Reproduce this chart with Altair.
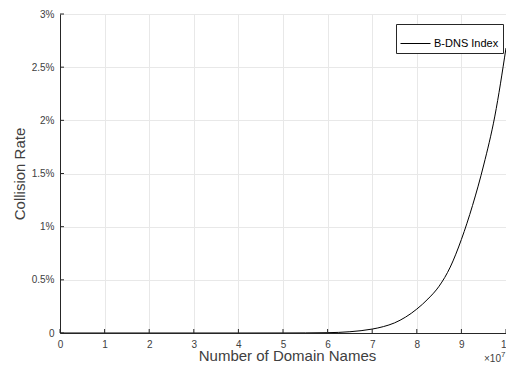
import altair as alt
import pandas as pd

# Data (x in units of 1e7 domain names, collision rate in percent)
x_vals = [0, 1, 2, 3, 4, 5, 5.5, 6, 6.5, 7, 7.25, 7.5, 7.75, 8, 8.25, 8.5, 8.75, 9, 9.25, 9.5, 9.75, 10]
rate_vals = [0, 0, 0, 0, 0, 0.0003, 0.001, 0.003, 0.012, 0.037, 0.06, 0.095, 0.15, 0.225, 0.32, 0.44, 0.62, 0.88, 1.2, 1.58, 2.04, 2.68]
series_name = "B-DNS Index"
x_ticks = [0, 1, 2, 3, 4, 5, 6, 7, 8, 9, 10]
y_ticks = [0, 0.5, 1, 1.5, 2, 2.5, 3]
x_title = "Number of Domain Names"
y_title = "Collision Rate"
exp_base = "\u00d710"
exp_power = "7"

df = pd.DataFrame({"x": x_vals, "rate": rate_vals, "series": [series_name] * len(x_vals)})
df_xt = pd.DataFrame({"x": x_ticks})
df_yt = pd.DataFrame({"rate": y_ticks})

W, H = 446, 319
FONT = "Liberation Sans"
AX = "#262626"
LBL = "#404040"
GRID = "#e8e8e8"

xs = alt.Scale(domain=[0, 10], nice=False, zero=False)
ys = alt.Scale(domain=[0, 3], nice=False, zero=False)

line = alt.Chart(df).mark_line(strokeWidth=1, interpolate="monotone", clip=True).encode(
    x=alt.X("x:Q", scale=xs, axis=alt.Axis(
        values=x_ticks, format="d", title=x_title, grid=True, gridColor=GRID,
        domainColor=AX, domainWidth=1, tickSize=0, labelPadding=6, labelFlush=False,
        labelFont=FONT, labelFontSize=10, labelColor=LBL,
        titleFont=FONT, titleFontSize=15, titleFontWeight="normal", titleColor=LBL,
        titleX=227, titleY=27, titleBaseline="alphabetic", titleAlign="center")),
    y=alt.Y("rate:Q", scale=ys, axis=alt.Axis(
        values=y_ticks, title=y_title, grid=True, gridColor=GRID, format="~g",
        labelExpr="datum.value == 0 ? '0' : datum.label + '%'",
        domainColor=AX, domainWidth=1, tickSize=0, labelPadding=6,
        labelFont=FONT, labelFontSize=10, labelColor=LBL,
        titleFont=FONT, titleFontSize=15, titleFontWeight="normal", titleColor=LBL,
        titleX=-41, titleY=H / 2, titleBaseline="middle", titleAlign="center", titleAngle=270)),
    color=alt.Color("series:N", scale=alt.Scale(range=["#000000"]), legend=alt.Legend(
        title=None, orient="none", legendX=336, legendY=10,
        symbolType="stroke", symbolSize=900, symbolStrokeWidth=1,
        labelFont=FONT, labelFontSize=11, labelColor="#000000", labelOffset=3,
        padding=4, strokeColor=AX, fillColor="#ffffff", cornerRadius=0)),
)

xticks = alt.Chart(df_xt).mark_rule(color=AX, strokeWidth=1).encode(
    x=alt.X("x:Q", scale=xs), y=alt.value(H), y2=alt.value(H - 4))
yticks = alt.Chart(df_yt).mark_rule(color=AX, strokeWidth=1).encode(
    y=alt.Y("rate:Q", scale=ys), x=alt.value(0), x2=alt.value(4))

exp1 = alt.Chart(pd.DataFrame({"t": [exp_base]})).mark_text(
    font=FONT, fontSize=10, color=LBL, align="right", baseline="alphabetic").encode(
    text="t:N", x=alt.value(W - 5), y=alt.value(H + 29))
exp2 = alt.Chart(pd.DataFrame({"t": [exp_power]})).mark_text(
    font=FONT, fontSize=8, color=LBL, align="left", baseline="alphabetic").encode(
    text="t:N", x=alt.value(W - 5), y=alt.value(H + 24))

chart = alt.layer(line, xticks, yticks, exp1, exp2).properties(
    width=W, height=H,
    autosize=alt.AutoSizeParams(type="none"),
    padding={"left": 52, "top": 6, "right": 0, "bottom": 30},
).configure_view(stroke=None).configure(background="#ffffff")

chart.save("out.html", embed_options={"renderer": "svg", "actions": False})
